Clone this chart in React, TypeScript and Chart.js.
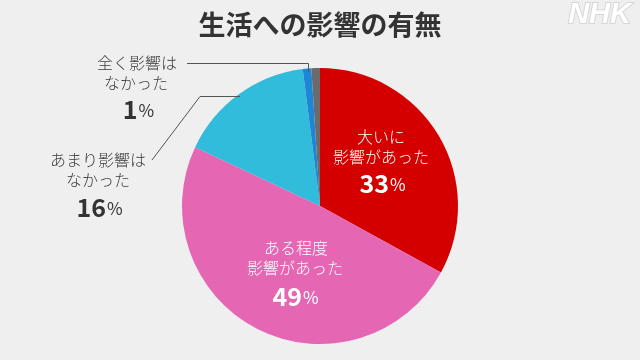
import React, { useEffect, useRef } from "react";
import { Chart, registerables } from "chart.js";

Chart.register(...registerables);

const categories = ["大いに影響があった", "ある程度影響があった", "あまり影響はなかった", "全く影響はなかった", "無回答"];
const values = [33, 49, 16, 1, 1];
const colors = ["#d40000", "#e567b4", "#32bcdc", "#1f86d6", "#6b6b6b"];
const titleText = "生活への影響の有無";
const labelLines = [
  ["大いに", "影響があった"],
  ["ある程度", "影響があった"],
  ["あまり影響は", "なかった"],
  ["全く影響は", "なかった"],
];
const percentLabels = ["33", "49", "16", "1"];

const FONT = '"Noto Sans CJK JP", "Noto Sans", sans-serif';
const LABEL_FONT = `300 16px ${FONT}`;

function drawPct(ctx: CanvasRenderingContext2D, num: string, x: number, y: number, color: string) {
  ctx.save();
  ctx.fillStyle = color;
  ctx.textBaseline = "middle";
  ctx.font = `bold 25px ${FONT}`;
  const w1 = ctx.measureText(num).width;
  ctx.font = `17px ${FONT}`;
  const w2 = ctx.measureText("%").width;
  const start = x - (w1 + w2) / 2;
  ctx.textAlign = "left";
  ctx.font = `bold 25px ${FONT}`;
  ctx.fillText(num, start, y);
  ctx.font = `17px ${FONT}`;
  ctx.fillText("%", start + w1 + 1, y + 2);
  ctx.restore();
}

const overlay = {
  id: "overlay",
  beforeDraw(chart: any) {
    const ctx = chart.ctx;
    ctx.save();
    ctx.fillStyle = "#efefef";
    ctx.fillRect(0, 0, chart.width, chart.height);
    ctx.restore();
  },
  afterDraw(chart: any) {
    const ctx: CanvasRenderingContext2D = chart.ctx;
    ctx.save();
    // title
    ctx.fillStyle = "#333333";
    ctx.font = `bold 27px ${FONT}`;
    ctx.textAlign = "center";
    ctx.textBaseline = "middle";
    ctx.fillText(titleText, 320, 25);
    // NHK logo
    ctx.font = `italic bold 29px "Liberation Sans", Arial, sans-serif`;
    ctx.textAlign = "right";
    ctx.lineWidth = 2;
    ctx.strokeStyle = "#d6d6d6";
    ctx.strokeText("NHK", 631, 15);
    ctx.fillStyle = "#ffffff";
    ctx.fillText("NHK", 631, 15);

    // leader lines
    ctx.strokeStyle = "#555555";
    ctx.lineWidth = 1;
    ctx.beginPath();
    ctx.moveTo(187, 63.5);
    ctx.lineTo(308.5, 63.5);
    ctx.lineTo(308.5, 72);
    ctx.stroke();
    ctx.beginPath();
    ctx.moveTo(152, 160);
    ctx.lineTo(200, 96.5);
    ctx.lineTo(240, 96.5);
    ctx.stroke();

    ctx.textAlign = "center";
    ctx.textBaseline = "middle";
    ctx.font = LABEL_FONT;
    // inner labels
    ctx.fillStyle = "#ffffff";
    ctx.fillText(labelLines[0][0], 381, 137);
    ctx.fillText(labelLines[0][1], 381, 157);
    drawPct(ctx, percentLabels[0], 382, 183, "#ffffff");
    ctx.font = LABEL_FONT;
    ctx.fillStyle = "#ffffff";
    ctx.fillText(labelLines[1][0], 296, 248);
    ctx.fillText(labelLines[1][1], 295, 268);
    drawPct(ctx, percentLabels[1], 295, 296, "#ffffff");
    // outer labels
    ctx.font = LABEL_FONT;
    ctx.fillStyle = "#3a3a3a";
    ctx.fillText(labelLines[2][0], 98, 160);
    ctx.fillText(labelLines[2][1], 98, 180);
    drawPct(ctx, percentLabels[2], 99, 207, "#333333");
    ctx.font = LABEL_FONT;
    ctx.fillStyle = "#3a3a3a";
    ctx.fillText(labelLines[3][0], 137, 63);
    ctx.fillText(labelLines[3][1], 136, 83);
    drawPct(ctx, percentLabels[3], 138, 109, "#333333");
    ctx.restore();
  },
};

export default function App() {
  const ref = useRef<HTMLCanvasElement>(null);
  useEffect(() => {
    document.body.style.margin = "0";
    const chart = new Chart(ref.current as HTMLCanvasElement, {
      type: "pie",
      data: {
        labels: categories,
        datasets: [
          {
            data: values,
            backgroundColor: colors,
            borderWidth: 0,
          },
        ],
      },
      options: {
        responsive: false,
        animation: false,
        layout: { padding: { top: 68, bottom: 16, left: 0, right: 0 } },
        plugins: {
          legend: { display: false },
          tooltip: { enabled: false },
          title: { display: false },
        },
      },
      plugins: [overlay],
    });
    return () => chart.destroy();
  }, []);
  return <canvas ref={ref} width={640} height={360} style={{ display: "block" }} />;
}
